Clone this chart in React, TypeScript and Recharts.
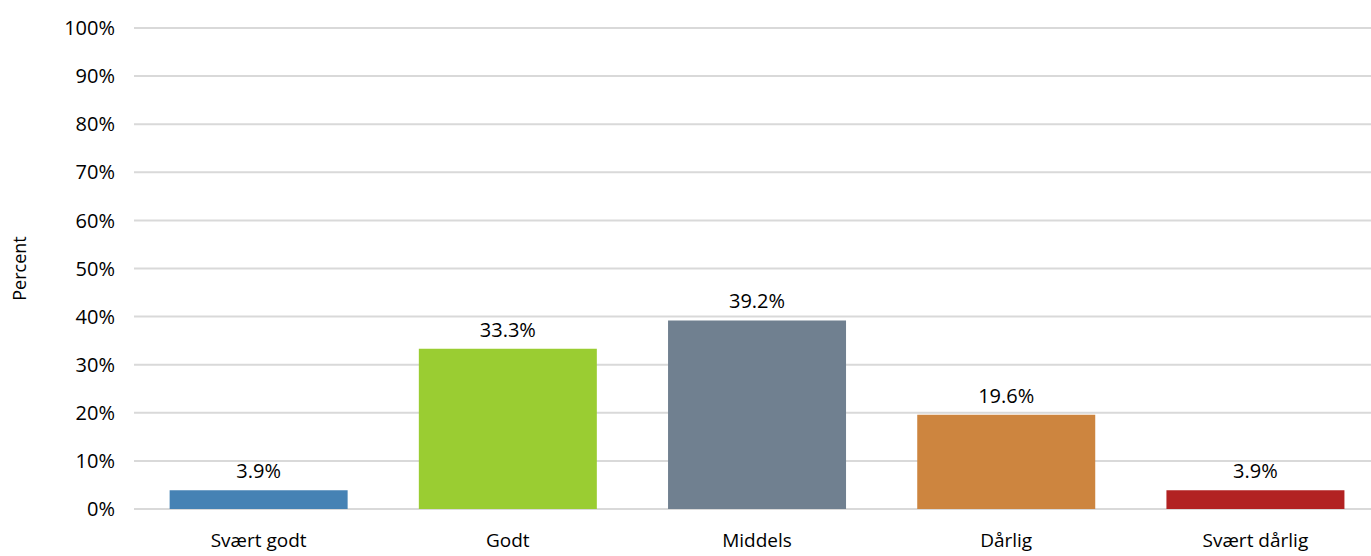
import React from 'react';
import { BarChart, Bar, XAxis, YAxis, CartesianGrid, LabelList, Cell } from 'recharts';

const categories = ['Svært godt', 'Godt', 'Middels', 'Dårlig', 'Svært dårlig'];
const percents = [3.9, 33.3, 39.2, 19.6, 3.9];
const barColors = ['#4682B4', '#9ACD32', '#708090', '#CD853F', '#B22222'];
const yTicks = [0, 10, 20, 30, 40, 50, 60, 70, 80, 90, 100];

const data = categories.map((name, i) => ({ name, value: percents[i] }));

const font = '"Open Sans", "Liberation Sans", sans-serif';

export default function App() {
    return (
        <div style={{ position: 'absolute', left: 0, top: 0, fontFamily: font }}>
            <BarChart
                width={1390}
                height={556}
                data={data}
                margin={{ top: 28, right: 10, left: 0, bottom: 0 }}
                barCategoryGap="14.3%"
            >
                <CartesianGrid vertical={false} stroke="#d9d9d9" strokeWidth={2} />
                <XAxis
                    dataKey="name"
                    height={47}
                    axisLine={false}
                    tickLine={false}
                    tick={{ fontSize: 19, fill: '#000', fontFamily: font }}
                    tickMargin={19}
                />
                <YAxis
                    width={134}
                    domain={[0, 100]}
                    ticks={yTicks}
                    interval={0}
                    axisLine={false}
                    tickLine={false}
                    tickSize={0}
                    tickMargin={19}
                    tickFormatter={(v: number) => `${v}%`}
                    tick={{ fontSize: 20, fill: '#000', fontFamily: font }}
                    label={{
                        value: 'Percent',
                        angle: -90,
                        position: 'insideLeft',
                        dx: 15,
                        style: { fontSize: 18, fill: '#000', fontFamily: font, textAnchor: 'middle' },
                    }}
                />
                <Bar dataKey="value" isAnimationActive={false}>
                    {data.map((d, i) => (
                        <Cell key={d.name} fill={barColors[i]} />
                    ))}
                    <LabelList
                        dataKey="value"
                        position="top"
                        offset={12}
                        formatter={(v: number) => `${v.toFixed(1)}%`}
                        style={{ fontSize: 20, fill: '#000', fontFamily: font }}
                    />
                </Bar>
            </BarChart>
        </div>
    );
}
